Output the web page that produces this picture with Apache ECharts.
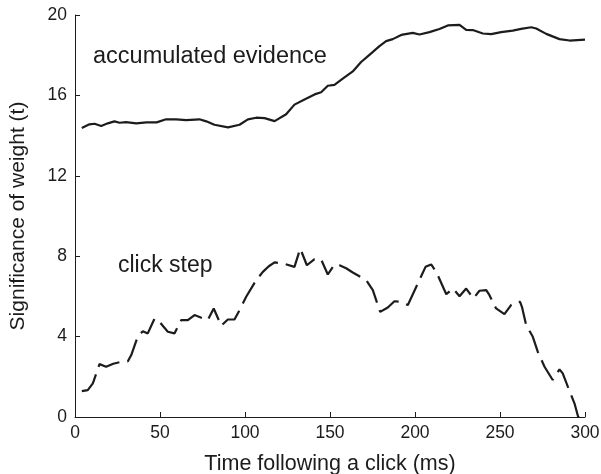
<!DOCTYPE html>
<html>
<head>
<meta charset="utf-8">
<script src="https://cdn.jsdelivr.net/npm/echarts@6/dist/echarts.min.js"></script>
<style>html,body{margin:0;padding:0;background:#fff;}#c{width:601px;height:474px;}</style>
</head>
<body>
<div id="c"></div>
<script>
var evidenceTime = [4,8.5,11.5,15.4,19.3,23.2,26.2,30,36,42,48,53.6,59.5,65.4,73.2,77.2,82,90,96.8,101.7,106.6,111.5,117.4,124.2,129.1,135,140.9,144.8,148.7,152.6,157.5,163.4,168.3,173.2,179.1,183,186.9,191.9,198.7,202.6,208.5,214.4,219.3,226.2,230.1,234,239.9,244.8,250.7,257.5,262.4,268.4,271.3,277.2,285,290.9,300];
var evidenceValue = [14.38,14.56,14.59,14.48,14.61,14.71,14.64,14.67,14.61,14.66,14.66,14.81,14.81,14.77,14.81,14.71,14.54,14.41,14.54,14.81,14.89,14.87,14.72,15.06,15.54,15.8,16.05,16.16,16.48,16.52,16.83,17.19,17.66,18.02,18.45,18.7,18.8,19.01,19.11,19.03,19.15,19.3,19.48,19.51,19.26,19.25,19.08,19.05,19.15,19.22,19.31,19.39,19.33,19.06,18.8,18.73,18.77];
var clickTime = [4,7.5,10.5,14.4,18.3,22.5,27.2,31.1,33.1,37,39.9,42.8,46.8,49.7,52,54.6,58.5,62.5,66.4,70.3,74,78.1,81.6,86,89.9,93.8,96.8,100.7,106.6,110.5,114,117.4,122.2,129.1,132.5,136.4,140.9,144.8,148.7,152.6,155.6,159.5,163.4,167.3,171.3,175.2,177.5,179.5,184,187.9,191.9,195.8,200.7,206.2,209.5,212.5,218.4,222.3,226.2,230.1,234.4,237.9,241.9,243.8,247.7,252.6,256.5,259.5,261.8,263,265.4,269.3,272.2,276.2,281,285,286.9,289.9,293.8,296,298,300];
var clickValue = [1.29,1.34,1.67,2.63,2.5,2.65,2.75,2.77,3.08,4.02,4.27,4.16,4.9,4.74,4.5,4.24,4.16,4.82,4.82,5.07,4.95,4.82,5.4,4.54,4.85,4.85,5.32,5.98,6.81,7.22,7.5,7.69,7.64,7.47,8.38,7.55,7.85,7.84,7.09,7.59,7.55,7.4,7.19,7.0,6.81,6.31,5.73,5.23,5.45,5.76,5.73,5.57,6.47,7.47,7.59,7.22,6.11,6.39,6.01,6.39,5.9,6.28,6.31,6.06,5.4,5.12,5.57,5.73,5.73,5.45,4.57,3.99,3.25,2.5,1.84,2.37,2.17,1.51,0.68,0,0.18,0.3];
var xTicks = [0,50,100,150,200,250,300];
var yTicks = [0,4,8,12,16,20];

function zip(a,b){return a.map(function(v,i){return [v,b[i]];});}
var FONT = '"Liberation Sans", Arial, Helvetica, sans-serif';
var INK = '#1c1c1c';
var chart = echarts.init(document.getElementById('c'), null, {renderer:'canvas'});
chart.setOption({
  animation:false,
  backgroundColor:'#fff',
  grid:{left:75, right:16, top:15, bottom:57, containLabel:false, outerBoundsMode:'none'},
  xAxis:{
    type:'value', min:xTicks[0], max:xTicks[xTicks.length-1], interval:50,
    name:'Time following a click (ms)', nameLocation:'middle', nameGap:36,
    nameTextStyle:{fontFamily:FONT, fontSize:21.5, color:INK},
    axisLine:{show:true, lineStyle:{color:INK, width:1}},
    axisTick:{show:true, inside:true, length:5, lineStyle:{color:INK}},
    axisLabel:{fontFamily:FONT, fontSize:17.5, color:INK, margin:7},
    splitLine:{show:false}
  },
  yAxis:{
    type:'value', min:yTicks[0], max:yTicks[yTicks.length-1], interval:4,
    name:'Significance of weight (t)', nameLocation:'middle', nameGap:46,
    nameTextStyle:{fontFamily:FONT, fontSize:21, color:INK},
    axisLine:{show:true, lineStyle:{color:INK, width:1}},
    axisTick:{show:true, inside:true, length:5, lineStyle:{color:INK}},
    axisLabel:{fontFamily:FONT, fontSize:17.5, color:INK, margin:8},
    splitLine:{show:false}
  },
  series:[
    {type:'line', data:zip(evidenceTime,evidenceValue), showSymbol:false, symbol:'none',
     lineStyle:{color:INK, width:2.2}, clip:true},
    {type:'line', data:zip(clickTime,clickValue), showSymbol:false, symbol:'none',
     lineStyle:{color:INK, width:2.2, type:[24,8]}, clip:true}
  ],
  graphic:[
    {type:'text', left:93, top:45, style:{text:'accumulated evidence', font:'23.5px '+FONT, fill:INK}},
    {type:'text', left:118, top:254, style:{text:'click step', font:'23px '+FONT, fill:INK}}
  ]
});
</script>
</body>
</html>
